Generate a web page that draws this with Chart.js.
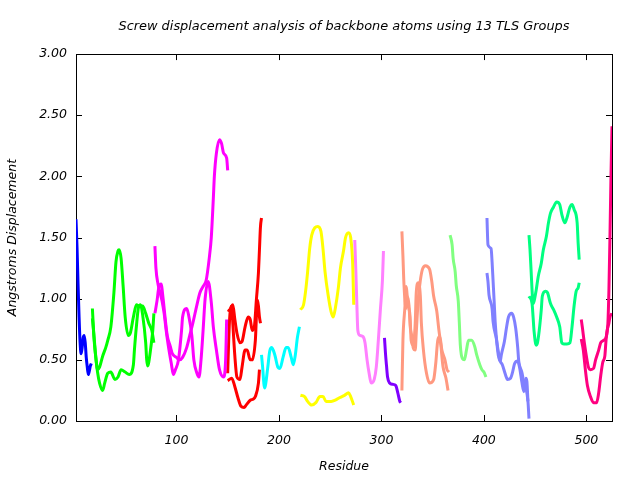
<!DOCTYPE html>
<html>
<head>
<meta charset="utf-8">
<script src="https://cdn.jsdelivr.net/npm/chart.js@4.4.1/dist/chart.umd.min.js"></script>
<style>
  html, body { margin: 0; padding: 0; background: #ffffff; }
  #wrap { width: 640px; height: 480px; }
</style>
</head>
<body>
<div id="wrap"><canvas id="c" width="640" height="480"></canvas></div>
<script>
// ---- data (residue numbers and screw displacement, Angstroms) ----
const xTickValues = [100, 200, 300, 400, 500];
const yTickValues = [0, 0.5, 1.0, 1.5, 2.0, 2.5, 3.0];

const blueRes = [2,3,4,5,6,7,8,9,10,11,12,13,14,15,16,17];
const blueVal = [1.65,1.42,1.12,0.85,0.64,0.55,0.60,0.68,0.70,0.64,0.52,0.44,0.38,0.41,0.45,0.47];

const greenARes = [18,19,20,22,23,25,28,30,33,36,40,43,46,50,54,58,59,61,63,65,67,70,71,72,73,75,77,78];
const greenAVal = [0.92,0.76,0.63,0.47,0.40,0.31,0.25,0.31,0.39,0.40,0.34,0.36,0.42,0.40,0.38,0.46,0.58,0.78,0.93,0.95,0.87,0.64,0.50,0.45,0.48,0.60,0.75,0.88];
const greenBRes = [18,20,21,23,25,28,31,33,36,39,41,43,44,46,48,50,53,55,58,61,64,67,70,73,76,78];
const greenBVal = [0.84,0.65,0.55,0.42,0.44,0.53,0.60,0.66,0.77,1.05,1.30,1.39,1.40,1.33,1.10,0.85,0.70,0.72,0.85,0.95,0.94,0.94,0.88,0.80,0.74,0.64];

const magentaARes = [79,81,83,85,87,89,91,94,96,100,103,106,110,113,116,120,123,126,129,132,134,136,137,139,142,144,146,149,150];
const magentaAVal = [0.88,0.98,1.10,1.12,1.00,0.84,0.70,0.61,0.55,0.52,0.50,0.52,0.60,0.70,0.80,0.95,1.05,1.10,1.15,1.33,1.50,1.82,2.00,2.19,2.30,2.27,2.19,2.15,2.05];
const magentaBRes = [79,80,82,84,86,88,90,92,95,97,99,102,105,106,110,112,115,117,120,122,124,126,128,131,134,136,139,142,146,148,149];
const magentaBVal = [1.43,1.25,1.12,1.05,0.98,0.88,0.74,0.62,0.47,0.38,0.42,0.50,0.74,0.85,0.92,0.86,0.70,0.50,0.39,0.36,0.50,0.74,1.00,1.14,0.97,0.77,0.58,0.42,0.36,0.50,0.83];

const redARes = [150,152,154,155,157,159,162,164,167,170,172,174,176,178,180,181,182,183];
const redAVal = [0.91,0.90,0.94,0.95,0.83,0.72,0.64,0.65,0.77,0.85,0.83,0.74,0.77,0.99,1.21,1.40,1.59,1.66];
const redBRes = [150,151,152,154,155,157,159,162,164,167,169,172,174,177,179,180,181,182];
const redBVal = [0.39,0.66,0.85,0.94,0.80,0.53,0.36,0.34,0.44,0.58,0.58,0.50,0.50,0.66,0.99,0.94,0.85,0.80];
const redCRes = [150,154,157,160,163,166,168,172,175,177,180,181];
const redCVal = [0.33,0.35,0.28,0.19,0.12,0.11,0.13,0.17,0.18,0.20,0.31,0.42];

const cyanRes = [183,184,186,189,191,193,196,199,201,204,207,209,212,214,216,218,220];
const cyanVal = [0.54,0.45,0.27,0.43,0.57,0.60,0.54,0.44,0.43,0.52,0.60,0.60,0.52,0.46,0.54,0.68,0.77];

const yellowARes = [221,224,226,228,230,232,235,238,241,243,245,248,251,253,255,258,260,263,265,268,270,272,273];
const yellowAVal = [0.91,0.95,1.06,1.22,1.41,1.52,1.58,1.59,1.55,1.41,1.22,1.03,0.89,0.85,0.92,1.09,1.25,1.39,1.50,1.54,1.50,1.28,0.95];
const yellowBRes = [221,225,228,232,236,240,243,246,251,255,259,264,268,270,273];
const yellowBVal = [0.21,0.20,0.16,0.13,0.15,0.20,0.20,0.16,0.16,0.17,0.19,0.21,0.23,0.20,0.13];

const orchidRes = [274,275,276,277,279,282,284,286,288,290,293,295,297,299,301,302];
const orchidVal = [1.48,1.24,0.97,0.74,0.70,0.69,0.64,0.50,0.39,0.31,0.34,0.44,0.66,0.91,1.15,1.39];

const violetRes = [303,304,305,306,308,311,314,316,318,319];
const violetVal = [0.68,0.55,0.45,0.36,0.31,0.30,0.29,0.23,0.16,0.15];

const salmonARes = [320,321,322,324,325,327,328,330,331,333,334,336,338,340,343,347,349,351,354,356,358,360,363,365];
const salmonAVal = [1.55,1.35,1.12,0.92,1.02,0.94,0.78,0.68,0.60,0.58,0.72,1.00,1.15,1.24,1.27,1.24,1.15,1.02,0.90,0.75,0.62,0.45,0.35,0.25];
const salmonBRes = [320,321,323,324,326,328,329,331,333,334,336,338,339,341,344,347,351,353,355,357,359,362,364,366];
const salmonBVal = [0.25,0.66,0.94,1.10,0.95,0.85,0.66,0.62,0.80,1.05,1.13,1.02,0.80,0.58,0.39,0.31,0.34,0.47,0.66,0.69,0.58,0.50,0.42,0.40];

const lightGreenRes = [367,369,370,372,373,375,376,377,379,381,383,385,388,391,393,396,398,400,402];
const lightGreenVal = [1.52,1.44,1.33,1.22,1.11,0.98,0.81,0.62,0.51,0.50,0.58,0.66,0.66,0.61,0.54,0.46,0.42,0.40,0.36];

const lavenderARes = [403,404,407,408,409,410,411,412,414,416,417,420,422,424,427,429,431,433,434,437,439,441,443,444];
const lavenderAVal = [1.66,1.44,1.41,1.30,1.14,0.98,0.81,0.70,0.54,0.49,0.54,0.65,0.76,0.85,0.88,0.85,0.76,0.60,0.49,0.40,0.32,0.27,0.16,0.02];
const lavenderBRes = [403,404,405,408,409,412,414,416,418,421,423,426,428,430,433,435,437,439,441,442,443];
const lavenderBVal = [1.21,1.14,1.03,0.92,0.81,0.68,0.57,0.49,0.46,0.38,0.34,0.35,0.40,0.47,0.49,0.43,0.32,0.24,0.35,0.32,0.16];

const springARes = [444,445,446,447,448,449,451,453,456,458,461,463,465,468,471,474,476,479,481,484,486,488,491,492,493];
const springAVal = [1.52,1.40,1.24,1.07,0.96,0.98,1.07,1.18,1.29,1.40,1.51,1.62,1.70,1.75,1.79,1.77,1.69,1.62,1.66,1.75,1.77,1.73,1.62,1.45,1.32];
const springBRes = [444,447,448,449,451,452,454,456,457,460,462,465,468,471,474,476,478,481,484,486,488,490,492,493];
const springBVal = [1.02,0.96,0.85,0.73,0.62,0.63,0.74,0.91,1.02,1.06,1.05,0.96,0.91,0.85,0.77,0.64,0.63,0.63,0.64,0.77,0.94,1.06,1.09,1.13];

const roseARes = [495,496,498,500,502,504,507,509,512,514,517,519,521,522,523,524,525];
const roseAVal = [0.83,0.77,0.64,0.53,0.44,0.42,0.43,0.50,0.58,0.64,0.66,0.68,0.80,1.07,1.50,2.00,2.41];
const roseBRes = [495,497,499,501,504,507,510,512,514,516,518,519,520,522,523,525];
const roseBVal = [0.67,0.58,0.42,0.29,0.20,0.15,0.15,0.23,0.37,0.48,0.53,0.64,0.73,0.80,0.85,0.88];

// ---- series -> colour (style only) ----
const curves = [
  [blueRes, blueVal, '#0000ff'],
  [greenARes, greenAVal, '#00ff00'],
  [greenBRes, greenBVal, '#00ff00'],
  [magentaARes, magentaAVal, '#ff00ff'],
  [magentaBRes, magentaBVal, '#ff00ff'],
  [redARes, redAVal, '#ff0000'],
  [redBRes, redBVal, '#ff0000'],
  [redCRes, redCVal, '#ff0000'],
  [cyanRes, cyanVal, '#00ffff'],
  [yellowARes, yellowAVal, '#ffff00'],
  [yellowBRes, yellowBVal, '#ffff00'],
  [orchidRes, orchidVal, '#ff80ff'],
  [violetRes, violetVal, '#8000ff'],
  [salmonARes, salmonAVal, '#ff9980'],
  [salmonBRes, salmonBVal, '#ff9980'],
  [lightGreenRes, lightGreenVal, '#80ff80'],
  [lavenderARes, lavenderAVal, '#8080ff'],
  [lavenderBRes, lavenderBVal, '#8080ff'],
  [springARes, springAVal, '#00ff80'],
  [springBRes, springBVal, '#00ff80'],
  [roseARes, roseAVal, '#ff0080'],
  [roseBRes, roseBVal, '#ff0080']
];

const datasets = curves.map(([xs, ys, col]) => ({
  data: xs.map((r, i) => ({ x: r, y: ys[i] })),
  borderColor: col,
  backgroundColor: col,
  borderWidth: 3,
  pointRadius: 0,
  fill: false,
  cubicInterpolationMode: 'monotone'
}));

const FONT = { family: "'DejaVu Sans', sans-serif", size: 12.5, style: 'italic', weight: 'normal', lineHeight: 1.2 };
const TITLE_FONT = { family: "'DejaVu Sans', sans-serif", size: 12.9, style: 'italic', weight: 'normal', lineHeight: 1.2 };

const frameTicks = {
  id: 'frameTicks',
  beforeDatasetsDraw(chart) {
    const { ctx, chartArea: a, scales: { x, y } } = chart;
    const L = 6;
    ctx.save();
    ctx.strokeStyle = '#000000';
    ctx.lineWidth = 1;
    ctx.beginPath();
    x.ticks.forEach(t => {
      const px = Math.round(x.getPixelForValue(t.value)) + 0.5;
      ctx.moveTo(px, a.bottom); ctx.lineTo(px, a.bottom - L);
      ctx.moveTo(px, a.top); ctx.lineTo(px, a.top + L);
    });
    y.ticks.forEach(t => {
      const py = Math.round(y.getPixelForValue(t.value)) + 0.5;
      ctx.moveTo(a.left, py); ctx.lineTo(a.left + L, py);
      ctx.moveTo(a.right, py); ctx.lineTo(a.right - L, py);
    });
    ctx.stroke();
    ctx.strokeRect(Math.round(a.left) + 0.5, Math.round(a.top) + 0.5,
                   Math.round(a.right) - Math.round(a.left), Math.round(a.bottom) - Math.round(a.top));
    ctx.restore();
  }
};

new Chart(document.getElementById('c'), {
  type: 'line',
  data: { datasets },
  plugins: [frameTicks],
  options: {
    responsive: false,
    animation: false,
    devicePixelRatio: 1,
    layout: { padding: { left: 0, right: 28, top: 0, bottom: 0 } },
    plugins: {
      legend: { display: false },
      tooltip: { enabled: false },
      title: {
        display: true,
        text: 'Screw displacement analysis of backbone atoms using 13 TLS Groups',
        color: '#000000',
        font: TITLE_FONT,
        fullSize: false,
        padding: { top: 19.3, bottom: 19.3 }
      }
    },
    scales: {
      x: {
        type: 'linear',
        min: 2,
        max: 525,
        afterBuildTicks: s => { s.ticks = xTickValues.map(v => ({ value: v })); },
        afterFit: s => { s.height = 59; },
        grid: { display: false, drawTicks: false },
        border: { display: false },
        ticks: { color: '#000000', font: FONT, padding: 12, maxRotation: 0, autoSkip: false },
        title: { display: true, text: 'Residue', color: '#000000', font: FONT, padding: { top: 0, bottom: 6 } }
      },
      y: {
        type: 'linear',
        min: 0,
        max: 3,
        afterBuildTicks: s => { s.ticks = yTickValues.map(v => ({ value: v })); },
        afterFit: s => { s.width = 76; },
        grid: { display: false, drawTicks: false },
        border: { display: false },
        ticks: { color: '#000000', font: FONT, padding: 9, callback: v => Number(v).toFixed(2), autoSkip: false },
        title: { display: true, text: 'Angstroms Displacement', color: '#000000', font: FONT, padding: { top: 5, bottom: 0 } }
      }
    }
  }
});
</script>
</body>
</html>
